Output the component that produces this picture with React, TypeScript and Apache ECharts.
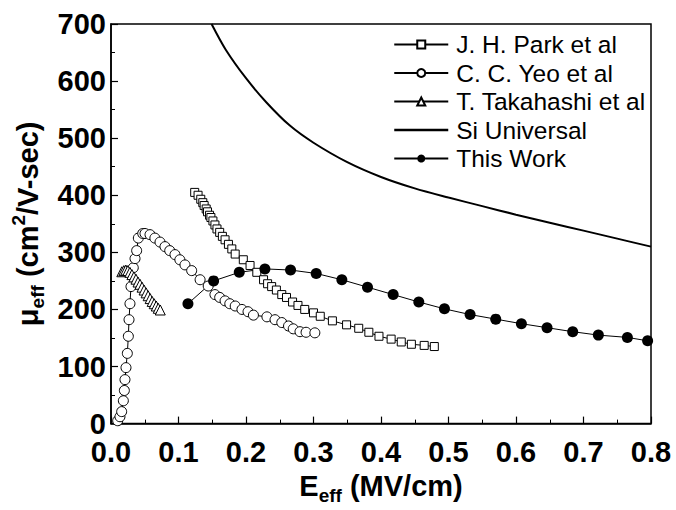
import React, { useEffect, useRef } from "react";
import * as echarts from "echarts";

// Effective field (MV/cm) and effective mobility (cm^2/V-sec) for each data set
const parkE = [0.124, 0.129, 0.133, 0.136, 0.138, 0.141, 0.143, 0.146, 0.148, 0.151, 0.154, 0.157, 0.161, 0.165, 0.169, 0.174, 0.179, 0.184, 0.196, 0.206, 0.216, 0.226, 0.232, 0.238, 0.245, 0.253, 0.26, 0.269, 0.277, 0.287, 0.3, 0.31, 0.328, 0.349, 0.367, 0.382, 0.397, 0.415, 0.43, 0.445, 0.464, 0.479];
const parkMu = [405, 400, 393, 387, 382, 376, 371, 365, 361, 355, 348, 341, 335, 328, 322, 314, 306, 297, 287, 277, 265, 252, 245, 240, 234, 226, 221, 213, 207, 200, 194, 188, 180, 173, 167, 160, 153, 148, 143, 139, 137, 135];

const yeoE = [0.0099, 0.0133, 0.0158, 0.0183, 0.0198, 0.0207, 0.0222, 0.0242, 0.0257, 0.0267, 0.0281, 0.0296, 0.033, 0.0356, 0.038, 0.0405, 0.047, 0.0504, 0.0578, 0.065, 0.0726, 0.08, 0.087, 0.0948, 0.102, 0.1096, 0.1195, 0.132, 0.144, 0.154, 0.161, 0.169, 0.176, 0.184, 0.194, 0.203, 0.211, 0.231, 0.243, 0.253, 0.263, 0.27, 0.28, 0.289, 0.302];
const yeoMu = [5, 12, 21, 40, 58, 77, 98, 123, 153, 182, 210, 240, 273, 289, 303, 325, 333, 333, 331, 325, 318, 310, 303, 296, 287, 278, 268, 252, 241, 226, 221, 215, 210, 206, 200, 196, 190, 187, 182, 177, 171, 166, 161, 160, 159];

const takahashiE = [0.016, 0.019, 0.022, 0.025, 0.028, 0.031, 0.034, 0.037, 0.04, 0.043, 0.046, 0.049, 0.052, 0.055, 0.058, 0.061, 0.064, 0.067, 0.07, 0.073];
const takahashiMu = [266, 268, 269, 268, 265, 261, 257, 253, 248, 244, 239, 234, 229, 224, 219, 214, 210, 206, 202, 199];

const siE = [0.149, 0.17, 0.2, 0.23, 0.265, 0.3, 0.35, 0.4, 0.45, 0.5, 0.55, 0.6, 0.65, 0.7, 0.75, 0.8];
const siMu = [700, 655, 605, 563, 522, 492, 458, 432, 412, 396, 381, 366, 352, 338, 324, 310];

const workE = [0.114, 0.152, 0.19, 0.228, 0.266, 0.304, 0.342, 0.38, 0.418, 0.456, 0.494, 0.532, 0.57, 0.608, 0.646, 0.684, 0.722, 0.765, 0.795];
const workMu = [210, 250, 265, 271, 269, 263, 252, 239, 226, 213, 201, 191, 183, 175, 168, 161, 155, 151, 145];

const seriesNames = ["J. H. Park et al", "C. C. Yeo et al", "T. Takahashi et al", "Si Universal", "This Work"];
const xTicks = { min: 0, max: 0.8, step: 0.1 };
const yTicks = { min: 0, max: 700, step: 100 };

const FONT = "'Liberation Sans', Arial, sans-serif";

const pairs = (xs: number[], ys: number[]) => xs.map((x, i) => [x, ys[i]]);

export default function App() {
  const ref = useRef<HTMLDivElement>(null);

  useEffect(() => {
    if (!ref.current) return;
    const chart = echarts.init(ref.current, undefined, { renderer: "svg" });

    const hollow = { color: "#fff", borderColor: "#000", borderWidth: 1 };
    const thinLine = { color: "#000", width: 1 };
    const big = { fontSize: 29, fontWeight: "bold", fontFamily: FONT, color: "#000", lineHeight: 38 };
    const sub = { fontSize: 19, fontWeight: "bold", fontFamily: FONT, color: "#000", lineHeight: 18, verticalAlign: "bottom" };
    const sup = { fontSize: 19, fontWeight: "bold", fontFamily: FONT, color: "#000", lineHeight: 18, verticalAlign: "top" };

    chart.setOption({
      animation: false,
      backgroundColor: "#fff",
      grid: {
        left: 111,
        right: 25,
        top: 24,
        bottom: 83,
        show: true,
        borderColor: "#000",
        borderWidth: 1.5,
      },
      legend: {
        data: [
          seriesNames[0],
          seriesNames[1],
          seriesNames[2],
          {
            name: seriesNames[3],
            itemStyle: { color: "rgba(0,0,0,0)", borderWidth: 0 },
            lineStyle: { color: "#000", width: 2.5 },
          },
          seriesNames[4],
        ],
        orient: "vertical",
        left: 388,
        top: 27,
        itemWidth: 54,
        itemHeight: 10,
        itemGap: 3.5,
        textStyle: { color: "#000", fontSize: 24.5, fontFamily: FONT, padding: [0, 0, 0, 3] },
      },
      xAxis: {
        type: "value",
        min: xTicks.min,
        max: xTicks.max,
        interval: xTicks.step,
        axisLine: { show: true, lineStyle: { color: "#000", width: 1.5 } },
        axisTick: { inside: true, length: 7, lineStyle: { color: "#000", width: 1.2 } },
        minorTick: { show: true, splitNumber: 2, length: 4, lineStyle: { color: "#000", width: 1 } },
        splitLine: { show: false },
        axisLabel: {
          color: "#000",
          fontSize: 29,
          fontWeight: "bold",
          fontFamily: FONT,
          margin: 14,
          formatter: (v: number) => v.toFixed(1),
        },
        name: "{m|E}{s|eff}{m| (MV/cm)}",
        nameLocation: "middle",
        nameGap: 40,
        nameTextStyle: { rich: { m: big, s: sub } },
      },
      yAxis: {
        type: "value",
        min: yTicks.min,
        max: yTicks.max,
        interval: yTicks.step,
        axisLine: { show: true, lineStyle: { color: "#000", width: 1.5 } },
        axisTick: { inside: true, length: 7, lineStyle: { color: "#000", width: 1.2 } },
        minorTick: { show: true, splitNumber: 2, length: 4, lineStyle: { color: "#000", width: 1 } },
        splitLine: { show: false },
        axisLabel: { color: "#000", fontSize: 29, fontWeight: "bold", fontFamily: FONT, margin: 5, lineHeight: 23 },
        name: "{m|μ}{s|eff}{m| (cm}{p|2}{m|/V-sec)}",
        nameLocation: "middle",
        nameRotate: 90,
        nameGap: 47,
        nameTextStyle: { rich: { m: big, s: sub, p: sup } },
      },
      series: [
        {
          name: seriesNames[0],
          type: "line",
          data: pairs(parkE, parkMu),
          symbol: "rect",
          symbolSize: 8,
          itemStyle: hollow,
          lineStyle: thinLine,
        },
        {
          name: seriesNames[1],
          type: "line",
          data: pairs(yeoE, yeoMu),
          symbol: "circle",
          symbolSize: 10,
          itemStyle: hollow,
          lineStyle: thinLine,
        },
        {
          name: seriesNames[2],
          type: "line",
          data: pairs(takahashiE, takahashiMu),
          symbol: "triangle",
          symbolSize: 10,
          itemStyle: hollow,
          lineStyle: thinLine,
        },
        {
          name: seriesNames[3],
          type: "line",
          data: pairs(siE, siMu),
          symbol: "none",
          smooth: 0.3,
          itemStyle: { color: "#000" },
          lineStyle: { color: "#000", width: 2 },
        },
        {
          name: seriesNames[4],
          type: "line",
          data: pairs(workE, workMu),
          symbol: "circle",
          symbolSize: 11,
          itemStyle: { color: "#000", borderColor: "#000", borderWidth: 0 },
          lineStyle: thinLine,
        },
      ],
    });

    return () => chart.dispose();
  }, []);

  return <div ref={ref} style={{ position: "absolute", left: 0, top: 0, width: 676, height: 510 }} />;
}
